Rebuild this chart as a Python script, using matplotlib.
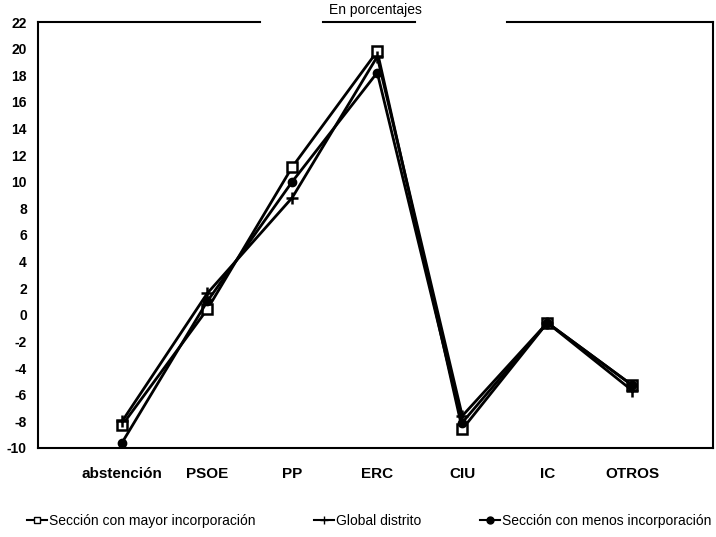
import matplotlib
matplotlib.use('Agg')
import matplotlib.pyplot as plt
from matplotlib.lines import Line2D

plt.rcParams['font.family'] = ['Liberation Sans', 'DejaVu Sans']

categories = ['abstención', 'PSOE', 'PP', 'ERC', 'CIU', 'IC', 'OTROS']
mayor = [-8.3, 0.4, 11.1, 19.8, -8.6, -0.6, -5.3]
global_distrito = [-8.0, 1.6, 8.8, 19.4, -7.6, -0.6, -5.7]
menos = [-9.6, 1.0, 10.0, 18.2, -8.1, -0.6, -5.3]
yticks = list(range(-10, 23, 2))

fig = plt.figure(figsize=(7.16, 5.37), dpi=100)
ax = fig.add_axes([0.053, 0.166, 0.943, 0.793])

x = list(range(len(categories)))
ax.plot(x, mayor, color='black', lw=2, marker='s', ms=7, mfc='white', mec='black', mew=1.8,
        label='Sección con mayor incorporación')
ax.plot(x, global_distrito, color='black', lw=2, marker='+', ms=8, mew=1.8,
        label='Global distrito')
ax.plot(x, menos, color='black', lw=2, marker='o', ms=6, mfc='black', mec='black',
        label='Sección con menos incorporación')

ax.set_xlim(-0.99, 6.95)
ax.set_ylim(-10, 22)
ax.set_xticks(x)
ax.set_xticklabels(categories, fontsize=11, fontweight='bold')
ax.set_yticks(yticks)
ax.set_yticklabels([str(v) for v in yticks], fontsize=10, fontweight='bold')
ax.tick_params(length=0, pad=8)
ax.tick_params(axis='x', pad=14)

ax.spines['top'].set_visible(False)
for s in ['left', 'right', 'bottom']:
    ax.spines[s].set_linewidth(1.5)

# broken top border around the title
for x0, x1 in [(0, 0.329), (0.422, 0.559), (0.695, 1.0)]:
    ax.plot([x0, x1], [1, 1], transform=ax.transAxes, color='black', lw=1.5, clip_on=False)

fig.text(0.524, 0.981, 'En porcentajes', ha='center', va='center', fontsize=10)

handles = [
    Line2D([], [], color='black', lw=1.5, marker='s', ms=5, mfc='white', mec='black'),
    Line2D([], [], color='black', lw=1.5, marker='+', ms=6),
    Line2D([], [], color='black', lw=1.5, marker='o', ms=5, mfc='black'),
]
labels = ['Sección con mayor incorporación', 'Global distrito', 'Sección con menos incorporación']
fig.legend(handles, labels, loc='center left', bbox_to_anchor=(0.038, 0.03), ncol=3, frameon=False,
           fontsize=10, handlelength=1.4, handletextpad=0.2, columnspacing=4.2,
           borderpad=0, borderaxespad=0)

fig.savefig('out.png', dpi=100)
